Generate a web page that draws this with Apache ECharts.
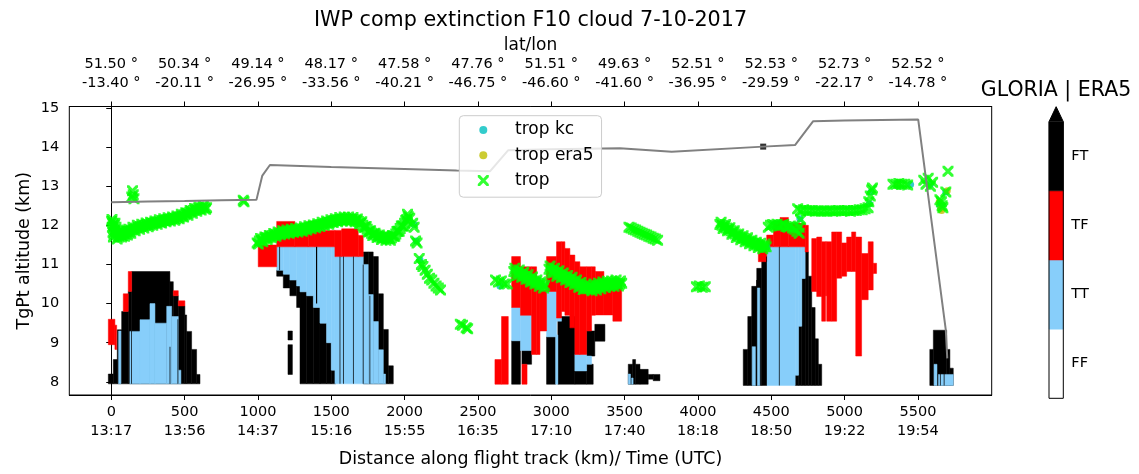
<!DOCTYPE html>
<html><head><meta charset="utf-8">
<script src="https://cdn.jsdelivr.net/npm/echarts@6/dist/echarts.min.js"></script>
<style>html,body{margin:0;padding:0;background:#fff}#c{width:1139px;height:474px}</style>
</head><body><div id="c"></div>
<script>
// ---------- axis ticks / labels ----------
const distTicks = [0,500,1000,1500,2000,2500,3000,3500,4000,4500,5000,5500];
const timeLabels = ['13:17','13:56','14:37','15:16','15:55','16:35','17:10','17:40','18:18','18:50','19:22','19:54'];
const latLabels = ['51.50','50.34','49.14','48.17','47.58','47.76','51.51','49.63','52.51','52.53','52.73','52.52'];
const lonLabels = ['-13.40','-20.11','-26.95','-33.56','-40.21','-46.75','-46.60','-41.60','-36.95','-29.59','-22.17','-14.78'];
const altTicks = [8,9,10,11,12,13,14,15];
const categories = ['FF','TT','TF','FT'];

// ---------- flight altitude ----------
const flightX =   [0,250,500,750,990,1030,1082,1500,2000,2355,2582,2707,3000,3468,3821,4445,4662,4786,5000,5502,5690,5700];
const flightAlt = [12.59,12.61,12.62,12.64,12.65,13.27,13.54,13.49,13.44,13.40,13.38,13.92,13.94,13.97,13.88,14.01,14.05,14.66,14.68,14.70,9.33,8.6];
const markX = [4445];
const markAlt = [14.01];

// ---------- tropopause (trop) ----------
const tropX = [3,5,8,12,15,20,25,28,36,40,45,55,65,75,85,95,105,115,127,140,155,170,185,200,215,230,245,260,275,290,305,320,335,350,365,380,395,410,425,440,455,470,485,500,515,530,545,560,575,590,605,620,635,650,
 10,18,32,50,60,70,80,90,100,110,120,133,148,163,178,193,208,222,238,252,268,283,298,313,328,343,358,373,388,403,418,433,448,463,478,493,508,523,538,553,568,583,598,613,628,643,
 140,145,150,155,900,905,
 995,1010,1025,1040,1055,1070,1085,1100,1115,1130,1145,1160,1175,1190,1205,1220,1235,1250,1265,1280,1295,1310,1325,1340,1355,1370,1385,1400,1415,1430,1445,1460,1475,1490,1505,1520,1535,1550,1565,1580,1595,1610,1625,1640,1655,1670,1685,1700,1715,1730,1745,1760,1775,1790,1805,1820,1835,1850,1865,1880,1895,1910,1925,1940,1955,1970,1985,2000,2015,2025,2035,
 1003,1018,1033,1048,1063,1078,1093,1108,1123,1138,1153,1168,1183,1198,1213,1228,1243,1258,1273,1288,1303,1318,1333,1348,1363,1378,1393,1408,1423,1438,1453,1468,1483,1498,1513,1528,1543,1558,1573,1588,1603,1618,1633,1648,1663,1678,1693,1708,1723,1738,1753,1768,1783,1798,1813,1828,1843,1858,1873,1888,1903,1918,1933,1948,1963,1978,1993,2008,2020,
 2055,2065,2075,2085,2100,2115,2125,2140,2155,2170,2185,2200,2215,2230,2245,2380,2395,2420,2430,
 2620,2640,2660,2680,2700,2745,2760,2775,2790,2805,2820,2835,2850,2865,2880,2895,2910,2925,2940,2955,
 2752,2768,2782,2798,2812,2828,2842,2858,2872,2888,2902,2918,2932,2948,
 2985,3000,3015,3030,3045,3060,3075,3090,3105,3120,3135,3150,3165,3180,3195,3210,3225,3240,
 2992,3008,3022,3038,3052,3068,3082,3098,3112,3128,3142,3158,3172,3188,3202,3218,3232,
 3255,3270,3285,3300,3315,3330,3345,3360,3375,3390,3405,3420,3435,3450,3465,3480,
 3262,3278,3292,3308,3322,3338,3352,3368,3382,3398,3412,3428,3442,3458,3472,
 3530,3545,3560,3575,3590,3605,3620,3635,3650,3665,3680,3695,3710,3725,3990,4010,4030,4050,
 4150,4165,4180,4195,4210,4225,4240,4255,4270,4285,4300,4315,4330,4345,4360,4375,4390,4405,4420,4435,4450,4465,
 4158,4172,4188,4202,4218,4232,4248,4262,4278,4292,4308,4322,4338,4352,4368,4382,4398,4412,4428,4442,4458,
 4480,4495,4510,4525,4540,4555,4570,4585,4600,4615,4630,4645,4660,4675,4690,4700,4690,
 4680,4700,4720,4740,4760,4780,4800,4820,4840,4860,4880,4900,4920,4940,4960,4980,5000,5020,5040,5060,5080,5100,5120,5140,5160,
 5165,5175,5185,5190,5330,5350,5370,5390,5410,5430,5540,5555,5570,5585,5600,5705,5650,5665,5670,5660,5690];
const tropAlt = [12.1,12.15,11.95,11.82,11.7,12.0,12.05,11.88,11.8,11.65,11.75,11.82,11.76,11.74,11.8,11.78,11.84,11.8,11.85,11.88,11.9,11.93,11.95,11.97,11.98,12.0,12.02,12.0,12.05,12.05,12.07,12.09,12.08,12.12,12.12,12.14,12.15,12.16,12.18,12.17,12.2,12.22,12.24,12.27,12.3,12.32,12.35,12.38,12.4,12.42,12.42,12.45,12.45,12.45,
 12.05,11.78,11.95,11.7,11.85,11.7,11.85,11.72,11.88,11.75,11.9,11.8,11.95,11.86,12.0,11.9,12.03,11.93,12.06,11.96,12.08,12.0,12.11,12.03,12.14,12.06,12.17,12.09,12.19,12.11,12.21,12.13,12.24,12.17,12.28,12.21,12.32,12.26,12.38,12.31,12.43,12.36,12.47,12.39,12.5,12.41,
 12.72,12.88,12.78,12.68,12.64,12.6,
 11.55,11.6,11.62,11.65,11.68,11.68,11.72,11.74,11.76,11.77,11.8,11.8,11.82,11.83,11.82,11.85,11.85,11.87,11.86,11.88,11.88,11.9,11.92,11.93,11.95,11.96,11.97,11.98,12.0,12.02,12.03,12.05,12.07,12.08,12.1,12.12,12.12,12.14,12.15,12.15,12.16,12.15,12.16,12.15,12.14,12.13,12.1,12.05,12.0,11.95,11.9,11.85,11.8,11.78,11.75,11.72,11.7,11.68,11.68,11.66,11.66,11.68,11.72,11.78,11.85,11.92,11.98,12.05,12.15,12.22,12.18,
 11.52,11.66,11.58,11.7,11.64,11.74,11.68,11.79,11.72,11.83,11.76,11.86,11.78,11.88,11.8,11.9,11.82,11.92,11.83,11.93,11.85,11.96,11.88,11.99,11.91,12.01,11.94,12.04,11.97,12.08,12.0,12.11,12.03,12.14,12.07,12.17,12.09,12.2,12.11,12.21,12.12,12.21,12.11,12.2,12.09,12.16,12.04,12.09,11.95,11.97,11.83,11.86,11.74,11.8,11.69,11.75,11.64,11.72,11.62,11.7,11.62,11.74,11.72,11.84,11.85,11.98,11.98,12.12,12.28,
 12.05,11.95,11.6,11.55,11.15,11.0,10.95,10.85,10.75,10.65,10.6,10.52,10.45,10.4,10.35,9.47,9.45,9.38,9.36,
 10.6,10.55,10.58,10.5,10.5,10.82,10.8,10.78,10.75,10.72,10.7,10.66,10.63,10.6,10.58,10.55,10.52,10.5,10.48,10.46,
 10.9,10.72,10.86,10.67,10.8,10.62,10.74,10.55,10.68,10.5,10.6,10.44,10.56,10.4,
 10.88,10.85,10.82,10.8,10.77,10.74,10.7,10.68,10.65,10.62,10.6,10.57,10.54,10.5,10.47,10.44,10.4,10.38,
 10.96,10.78,10.9,10.7,10.84,10.66,10.78,10.6,10.72,10.54,10.67,10.49,10.6,10.42,10.54,10.36,10.47,
 10.38,10.4,10.42,10.4,10.44,10.45,10.47,10.48,10.48,10.5,10.52,10.5,10.52,10.52,10.5,10.52,
 10.46,10.33,10.5,10.35,10.52,10.38,10.55,10.41,10.57,10.44,10.58,10.44,10.6,10.45,10.58,
 11.95,11.93,11.9,11.88,11.85,11.82,11.8,11.77,11.75,11.72,11.7,11.67,11.65,11.62,10.43,10.45,10.42,10.43,
 12.02,12.0,11.97,11.93,11.9,11.86,11.82,11.78,11.74,11.71,11.68,11.66,11.63,11.6,11.58,11.55,11.53,11.5,11.48,11.47,11.45,11.45,
 12.08,11.92,12.02,11.86,11.94,11.77,11.86,11.69,11.78,11.63,11.73,11.58,11.68,11.53,11.62,11.48,11.57,11.43,11.54,11.4,11.52,
 11.95,12.0,12.02,12.0,12.03,11.98,12.0,12.02,11.97,11.95,11.98,11.93,11.9,11.85,11.95,12.15,11.8,
 12.42,12.38,12.4,12.38,12.37,12.38,12.36,12.37,12.36,12.37,12.36,12.37,12.36,12.37,12.38,12.37,12.37,12.38,12.36,12.38,12.38,12.4,12.4,12.42,12.45,
 12.6,12.75,12.9,12.95,13.05,13.05,13.07,13.05,13.05,13.03,13.15,13.05,13.2,13.0,13.1,13.38,12.65,12.5,12.45,12.6,12.85];
const kcX =   [630,2065,2080,2105,2650,2890,3330,3460,4470,4695,5180,5170,5360,5450,5585,5690,5650];
const kcAlt = [12.42,12.02,11.6,11.12,10.45,10.56,10.45,10.5,11.45,12.17,12.85,12.55,13.05,13.04,13.05,12.85,12.5];
const era5X =   [470,1650,2800,3580,5360,5645,5655,5700,5662];
const era5Alt = [12.22,12.15,10.73,11.85,13.02,12.6,12.42,12.88,12.38];

// ---------- GLORIA | ERA5 curtain cells: [dist0, dist1, alt0, alt1] ----------
const ftCells = [
 [-20,14,7.95,8.2],[14,41,7.95,8.57],[41,71,7.95,9.33],[71,116,7.95,9.8],[116,139,7.95,10.31],[139,400,7.95,10.82],[400,423,7.95,10.56],[423,457,7.95,10.2],[457,502,7.95,9.94],[502,514,7.95,9.71],[514,548,7.95,9.29],[548,582,7.95,8.83],[582,605,7.95,8.19],
 [1128,1173,10.7,10.85],[1173,1218,10.4,10.75],[1218,1264,10.2,10.6],[1205,1235,9.07,9.3],[1205,1235,8.19,8.95],[1264,1287,9.9,10.45],[1287,1332,7.95,10.3],[1332,1378,7.95,10.2],[1378,1423,7.95,9.9],[1423,1468,7.95,9.5],[1468,1500,7.95,9.0],[1500,1530,7.95,8.3],[1718,1752,7.95,11.32],[1752,1786,7.95,11.32],[1786,1821,7.95,11.2],[1821,1855,7.95,10.25],[1855,1889,7.95,9.34],[1889,1923,7.95,8.41],
 [2730,2790,7.94,9.05],[2800,2866,8.45,8.8],[2968,3030,7.94,9.15],[3045,3161,7.94,9.67],[3161,3241,7.94,8.28],[3241,3297,8.66,9.3],[3241,3286,7.94,8.45],[3297,3366,9.04,9.47],
 [3525,3555,7.94,8.45],[3555,3575,7.94,8.57],[3575,3605,7.94,8.45],[3605,3661,7.94,8.32],[3661,3695,8.07,8.19],[3695,3741,8.03,8.19],
 [4309,4340,7.91,8.83],[4340,4367,7.91,9.67],[4367,4401,7.91,10.44],[4401,4435,7.91,10.9],[4435,4469,7.91,11.1],[4663,4686,7.91,8.17],[4686,4708,7.91,9.42],[4708,4731,7.91,10.64],[4731,4753,7.91,11.32],[4753,4776,7.91,10.7],[4776,4799,7.91,9.9],[4799,4821,7.91,9.1],[4821,4844,7.91,8.45],
 [5581,5605,7.91,8.83],[5605,5696,7.91,9.32],[5696,5718,7.91,8.83],[5718,5741,7.91,8.35]
];
const ttCells = [
 [50,66,7.95,9.3],[127,196,7.95,9.29],[196,264,7.95,9.59],[264,298,7.95,10.0],[298,378,7.95,9.5],[378,412,7.95,9.93],[412,457,7.95,9.67],[457,475,7.95,8.3],
 [1128,1173,10.85,11.45],[1173,1218,10.75,11.45],[1218,1264,10.6,11.45],[1264,1287,10.45,11.45],[1287,1332,10.3,11.45],[1332,1378,10.2,11.45],[1378,1423,9.9,11.45],[1423,1468,9.5,11.45],[1468,1500,9.0,11.45],[1500,1525,8.3,11.45],[1525,1718,7.95,11.2],[1718,1752,7.95,11.0],[1752,1786,7.95,10.23],[1786,1821,7.95,9.54],[1821,1855,7.95,8.82],[1855,1870,7.95,8.2],
 [2730,2790,9.05,9.9],[2790,2866,8.8,9.7],[2968,3036,9.15,10.31],[3030,3045,7.94,9.2],[3036,3070,9.55,9.63],[3161,3241,8.28,8.7],[3241,3275,8.45,8.66],[3525,3540,7.94,8.2],[3548,3558,7.94,8.1],
 [4370,4392,7.91,8.9],[4405,4422,7.91,10.4],[4469,4663,7.91,11.45],[4663,4686,8.17,11.45],[4686,4708,9.42,11.45],[4708,4731,10.64,11.45],
 [5610,5630,7.91,8.45],[5640,5741,7.91,8.19]
];
const tfCells = [
 [-20,25,8.95,9.6],[25,37,8.83,9.45],[82,116,9.8,10.25],[116,139,10.31,10.82],[423,457,10.2,10.33],[457,502,9.94,10.07],
 [1002,1128,10.94,11.5],[1128,1252,11.45,12.1],[1252,1343,11.45,12.0],[1343,1389,11.45,12.1],[1389,1525,11.45,11.87],[1525,1571,11.2,11.87],[1571,1684,11.2,11.91],[1684,1718,11.2,11.74],
 [2616,2661,7.94,8.57],[2661,2707,7.94,9.67],[2730,2790,9.9,11.2],[2790,2866,9.7,10.94],[2866,2900,8.7,10.94],[2900,2923,8.7,10.65],[2923,2968,9.3,10.35],[2800,2835,7.94,8.45],[2968,3036,10.31,11.2],[3036,3070,9.63,11.58],[3070,3093,9.8,11.58],[3093,3127,9.7,11.41],[3127,3161,9.38,11.24],[3161,3195,8.7,11.07],[3195,3241,8.7,10.94],[3241,3275,9.3,10.94],[3275,3300,9.7,10.94],[3300,3359,9.71,10.82],[3359,3420,9.71,10.6],[3420,3480,9.55,10.6],
 [4412,4469,11.07,11.5],[4469,4515,11.45,11.75],[4515,4560,11.45,12.1],[4560,4617,11.45,12.2],[4617,4731,11.45,12.05],[4731,4753,11.32,12.0],
 [4776,4810,10.31,11.66],[4810,4844,10.18,11.7],[4844,4870,9.55,11.58],[4870,4878,10.2,11.58],[4878,4912,9.55,11.58],[4912,4946,9.55,11.83],[4946,4980,10.65,11.83],[4980,5014,10.7,11.55],[5014,5048,10.82,11.7],[5048,5076,10.82,11.83],[5076,5116,8.66,11.7],[5116,5161,10.1,11.28],[5161,5195,10.35,11.58],[5195,5218,10.77,11.03]
];
const ftLines = [
 [135,140,7.95,9.3],[398,403,7.95,8.9],[452,457,7.95,9.6],
 [1146,1151,10.85,11.45],[1396,1404,10.0,11.45],[1557,1562,7.95,11.2],[1580,1585,7.95,11.2],[1648,1653,7.95,11.2],[1715,1720,7.95,11.0],[1761,1766,7.95,10.2],
 [4398,4403,7.91,10.6],[4465,4470,7.91,11.2],[4552,4557,7.91,11.45],
 [5650,5655,7.91,8.4],[5676,5681,7.91,8.45]
];

// ---------- styles ----------
const FONT = 'DejaVu Sans';
const catColors = ['#ffffff','#87cefa','#ff0000','#000000'];
const X_MIN = -286, X_MAX = 6003, Y_MIN = 7.665, Y_MAX = 15.035;
const xMarker = 'path://M0,0 L2.2,0 L5.5,3.3 L8.8,0 L11,0 L11,2.2 L7.7,5.5 L11,8.8 L11,11 L8.8,11 L5.5,7.7 L2.2,11 L0,11 L0,8.8 L3.3,5.5 L0,2.2 Z';
const xLegend = 'path://M0,0 M50.7,11 M18.5,0 L20.7,0 L24,3.3 L27.3,0 L29.5,0 L29.5,2.2 L26.2,5.5 L29.5,8.8 L29.5,11 L27.3,11 L24,7.7 L20.7,11 L18.5,11 L18.5,8.8 L21.8,5.5 L18.5,2.2 Z';
const dotLegend = 'path://M0,0 M50.7,11 M20,5.5 a4,4 0 1,0 8,0 a4,4 0 1,0 -8,0 Z';

function cellSeries(name, cells, color, seam) {
  return {
    type: 'custom', name: name, xAxisIndex: 0, yAxisIndex: 0, silent: true, clip: true,
    data: cells, encode: { x: [0, 1], y: [2, 3] },
    renderItem: function (params, api) {
      const a = api.coord([api.value(0), api.value(3)]);
      const b = api.coord([api.value(1), api.value(2)]);
      return { type: 'rect', shape: { x: a[0], y: a[1], width: b[0] - a[0], height: b[1] - a[1] },
        style: seam ? { fill: color, stroke: color, lineWidth: 0.5 } : { fill: color } };
    }
  };
}

const chart = echarts.init(document.getElementById('c'), null, { renderer: 'canvas' });
const axisCommon = {
  axisLine: { show: true, lineStyle: { color: '#000', width: 1 } },
  splitLine: { show: false },
  nameMoveOverlap: false
};
const option = {
  animation: false,
  backgroundColor: '#fff',
  textStyle: { fontFamily: FONT, color: '#000' },
  title: [
    { text: 'IWP comp extinction F10 cloud 7-10-2017', left: 530.5, top: 9, textAlign: 'center', padding: 0,
      textStyle: { fontFamily: FONT, fontSize: 20.7, fontWeight: 'normal', color: '#000', lineHeight: 24 } },
    { text: 'GLORIA | ERA5', left: 1056, top: 79, textAlign: 'center', padding: 0,
      textStyle: { fontFamily: FONT, fontSize: 20.5, fontWeight: 'normal', color: '#000', lineHeight: 24 } }
  ],
  legend: {
    left: 459.3, top: 115.7, orient: 'vertical', padding: [4.3, 8, 6.6, 0], itemGap: 5.3,
    itemWidth: 50.7, itemHeight: 11, backgroundColor: 'rgba(255,255,255,0.8)', borderColor: '#cccccc',
    borderWidth: 1, borderRadius: 4,
    textStyle: { fontFamily: FONT, fontSize: 17, lineHeight: 20, color: '#000' },
    data: [
      { name: 'trop kc', icon: dotLegend },
      { name: 'trop era5', icon: dotLegend },
      { name: 'trop', icon: xLegend }
    ]
  },
  grid: [
    { left: 69.3, top: 106.5, width: 922.4, height: 290.8, show: true, borderColor: '#000', borderWidth: 1, backgroundColor: 'transparent' },
    { left: 1049, top: 106.7, width: 14.3, height: 291.6 }
  ],
  xAxis: [
    Object.assign({}, axisCommon, {
      type: 'value', gridIndex: 0, position: 'bottom', min: X_MIN, max: X_MAX,
      axisTick: { show: true, length: 5, customValues: distTicks, lineStyle: { color: '#000' } },
      axisLabel: { customValues: distTicks, margin: 8, fontFamily: FONT, fontSize: 14.5, lineHeight: 19, color: '#000',
        formatter: function (v) { const i = distTicks.indexOf(Math.round(v)); return Math.round(v) + '\n' + timeLabels[i]; } },
      name: 'Distance along flight track (km)/ Time (UTC)', nameLocation: 'middle', nameGap: 54,
      nameTextStyle: { fontFamily: FONT, fontSize: 17.4, lineHeight: 20, color: '#000' }
    }),
    Object.assign({}, axisCommon, {
      type: 'value', gridIndex: 0, position: 'top', min: X_MIN, max: X_MAX,
      axisTick: { show: true, length: 5, customValues: distTicks, lineStyle: { color: '#000' } },
      axisLabel: { customValues: distTicks, margin: 14, fontFamily: FONT, fontSize: 14.5, lineHeight: 19, color: '#000',
        formatter: function (v) { const i = distTicks.indexOf(Math.round(v)); return latLabels[i] + ' \u00b0\n' + lonLabels[i] + ' \u00b0'; } },
      name: 'lat/lon', nameLocation: 'middle', nameGap: 51,
      nameTextStyle: { fontFamily: FONT, fontSize: 17, lineHeight: 20, color: '#000' }
    }),
    { type: 'value', gridIndex: 1, min: 0, max: 1, show: false }
  ],
  yAxis: [
    Object.assign({}, axisCommon, {
      type: 'value', gridIndex: 0, min: Y_MIN, max: Y_MAX,
      axisTick: { show: true, length: 5, customValues: altTicks, lineStyle: { color: '#000' } },
      axisLabel: { customValues: altTicks, margin: 10, fontFamily: FONT, fontSize: 14.5, color: '#000' },
      name: 'TgPt altitude (km)', nameLocation: 'middle', nameGap: 35.3,
      nameTextStyle: { fontFamily: FONT, fontSize: 17.4, lineHeight: 20, color: '#000' }
    }),
    {
      type: 'value', gridIndex: 1, min: 0, max: 4.217, position: 'right',
      axisLine: { show: false }, splitLine: { show: false },
      axisTick: { show: true, length: 5, customValues: [0.5, 1.5, 2.5, 3.5], lineStyle: { color: '#000' } },
      axisLabel: { customValues: [0.5, 1.5, 2.5, 3.5], margin: 8, fontFamily: FONT, fontSize: 14.5, color: '#000',
        formatter: function (v) { return categories[Math.floor(v)]; } }
    }
  ],
  series: [
    { type: 'line', name: 'flight', xAxisIndex: 0, yAxisIndex: 0, data: flightX.map((x, i) => [x, flightAlt[i]]),
      showSymbol: false, symbol: 'none', lineStyle: { color: '#808080', width: 2 }, silent: true },
    cellSeries('FT', ftCells, '#000000', true),
    cellSeries('TT', ttCells, '#87cefa', true),
    cellSeries('TF', tfCells, '#ff0000', true),
    cellSeries('FTline', ftLines, '#000000', false),
    { type: 'scatter', name: 'mark', xAxisIndex: 0, yAxisIndex: 0, data: markX.map((x, i) => [x, markAlt[i]]),
      symbol: 'rect', symbolSize: 6, itemStyle: { color: '#000' }, silent: true },
    { type: 'scatter', name: 'trop kc', xAxisIndex: 0, yAxisIndex: 0, data: kcX.map((x, i) => [x, kcAlt[i]]),
      symbol: 'circle', symbolSize: 7, itemStyle: { color: '#00bfbf' }, silent: true },
    { type: 'scatter', name: 'trop era5', xAxisIndex: 0, yAxisIndex: 0, data: era5X.map((x, i) => [x, era5Alt[i]]),
      symbol: 'circle', symbolSize: 7, itemStyle: { color: '#bfbf00' }, silent: true },
    { type: 'scatter', name: 'trop', xAxisIndex: 0, yAxisIndex: 0, data: tropX.map((x, i) => [x, tropAlt[i]]),
      symbol: xMarker, symbolSize: 11, itemStyle: { color: '#00ff00' }, silent: true },
    { type: 'custom', name: 'colorbar', xAxisIndex: 2, yAxisIndex: 1, silent: true,
      data: categories.map((c, i) => [i]),
      renderItem: function (params, api) {
        const i = api.value(0);
        const a = api.coord([0, i + 1]);
        const b = api.coord([1, i]);
        const children = [{ type: 'rect', shape: { x: a[0], y: a[1], width: b[0] - a[0], height: b[1] - a[1] },
          style: { fill: catColors[i], stroke: catColors[i], lineWidth: 0.5 } }];
        if (i === categories.length - 1) {
          const t = api.coord([0.5, 4.217]);
          children.push({ type: 'polygon', shape: { points: [[a[0], a[1]], [b[0], a[1]], t] }, style: { fill: catColors[i] } });
          const p0 = api.coord([0, 0]), p1 = api.coord([1, 0]);
          children.push({ type: 'polygon', shape: { points: [p0, p1, [p1[0], a[1]], t, [p0[0], a[1]]] },
            style: { fill: null, stroke: '#000', lineWidth: 1 } });
        }
        return { type: 'group', children: children };
      } }
  ]
};
chart.setOption(option);
</script>
</body></html>
